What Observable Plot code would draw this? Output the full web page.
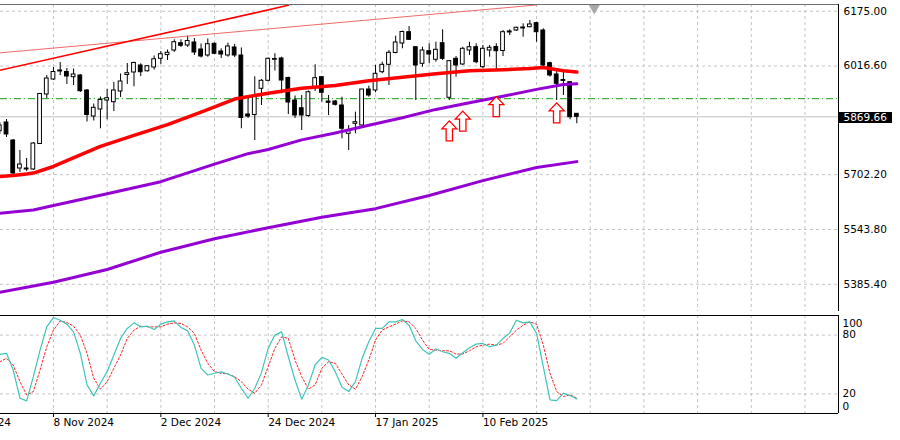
<!DOCTYPE html>
<html><head><meta charset="utf-8">
<script src="https://cdn.jsdelivr.net/npm/d3@7"></script>
<script src="https://cdn.jsdelivr.net/npm/@observablehq/plot@0.6"></script>
<style>
body{margin:0;background:#fff;}
#wrap{position:relative;width:900px;height:440px;overflow:hidden;background:#fff;}
#wrap svg{position:absolute;left:0;overflow:hidden;}
#bottomline{position:absolute;left:0;top:436px;width:900px;height:1px;background:#a0a0a0;}
</style></head><body><div id="wrap"><div id="bottomline"></div></div>
<script>
// ---- daily candles (bar index 0..86) ----
const open = [5828.0, 5853.2, 5801.1, 5720.1, 5720.1, 5717.3, 5791.0, 5934.2, 5977.5, 6003.6,
 5999.2, 5984.2, 5989.1, 5945.7, 5870.5, 5890.8, 5916.8, 5911.9, 5942.8, 5990.6,
 5997.8, 6018.0, 6001.3, 6012.2, 6037.4, 6048.1, 6061.4, 6082.5, 6075.9, 6084.5,
 6064.3, 6046.9, 6080.8, 6058.5, 6046.9, 6070.1, 6046.9, 5876.3, 5874.9, 5950.6,
 5973.8, 6034.5, 6038.3, 5981.9, 5916.8, 5894.5, 5872.0, 5955.3, 5984.2, 5913.9,
 5913.9, 5902.3, 5820.5, 5849.4, 5844.5, 5948.6, 5945.7, 5998.6, 6020.0, 6054.2,
 6081.6, 6114.3, 6070.9, 6022.9, 6059.4, 6034.5, 6082.5, 5924.6, 6037.4, 6020.9,
 6061.4, 6070.9, 6013.1, 6061.4, 6071.5, 6060.0, 6116.4, 6119.2, 6127.9, 6128.8,
 6140.4, 6119.2, 6024.7, 5992.0, 5976.1, 5969.7, 5878.3];
const high = [5853.2, 5861.9, 5804.0, 5772.2, 5749.1, 5795.3, 5937.0, 5989.1, 6012.2, 6026.7,
 6009.3, 6007.9, 5992.0, 5948.6, 5906.7, 5926.9, 5948.6, 5968.9, 5993.4, 6023.8,
 6027.6, 6022.9, 6018.0, 6045.5, 6058.5, 6062.9, 6092.3, 6092.3, 6103.3, 6096.1,
 6080.2, 6094.7, 6083.1, 6066.3, 6082.5, 6078.8, 6068.6, 5925.5, 5985.3, 5977.5,
 6039.7, 6051.9, 6042.0, 5984.2, 5929.8, 5931.3, 5944.3, 6020.0, 5985.3, 5931.3,
 5916.8, 5926.3, 5844.5, 5883.0, 5948.6, 5958.2, 6018.0, 6027.6, 6061.4, 6102.8,
 6117.2, 6130.8, 6070.9, 6070.9, 6080.8, 6085.4, 6121.3, 6032.5, 6044.0, 6070.9,
 6085.4, 6080.8, 6075.9, 6075.9, 6080.8, 6119.2, 6121.3, 6128.8, 6138.6, 6148.2,
 6143.2, 6124.2, 6027.6, 6003.6, 5998.6, 5969.7, 5879.2];
const low = [5818.5, 5809.8, 5702.8, 5708.6, 5711.5, 5714.4, 5789.6, 5922.6, 5974.6, 5989.1,
 5963.1, 5960.2, 5939.9, 5854.6, 5857.5, 5835.0, 5861.0, 5885.0, 5925.5, 5963.1,
 5956.4, 5986.2, 5999.2, 6004.4, 6020.9, 6032.5, 6055.6, 6070.1, 6070.1, 6046.9,
 6039.7, 6042.0, 6049.8, 6038.3, 6042.0, 6041.2, 5835.0, 5864.7, 5801.1, 5902.3,
 5970.3, 6002.1, 5936.2, 5876.3, 5864.7, 5830.0, 5868.5, 5942.8, 5911.9, 5873.4,
 5900.9, 5806.0, 5772.2, 5820.5, 5843.1, 5926.3, 5939.1, 5994.0, 5960.2, 6051.9,
 6066.3, 6090.3, 5916.8, 6013.1, 6022.9, 6027.6, 6032.5, 5916.8, 5984.2, 6018.0,
 6046.9, 6022.9, 6008.5, 6042.0, 6003.6, 6044.0, 6104.8, 6116.4, 6099.9, 6127.1,
 6085.4, 6013.1, 5984.2, 5916.8, 5931.3, 5861.0, 5849.4];
const close = [5844.5, 5818.5, 5705.7, 5731.7, 5717.3, 5792.4, 5935.6, 5980.4, 5999.2, 6000.7,
 5986.2, 5992.0, 5943.7, 5874.9, 5895.7, 5918.3, 5923.5, 5945.7, 5971.8, 5995.8,
 6025.3, 5998.6, 6016.0, 6036.0, 6050.7, 6054.8, 6085.4, 6075.0, 6088.9, 6055.6,
 6044.0, 6079.6, 6051.9, 6049.8, 6073.0, 6046.9, 5866.2, 5870.5, 5926.9, 5973.8,
 6037.4, 6036.8, 5974.6, 5911.0, 5873.4, 5873.4, 5940.8, 5981.3, 5939.1, 5910.2,
 5904.4, 5835.0, 5830.0, 5854.0, 5948.6, 5931.3, 5994.0, 6020.0, 6054.8, 6084.5,
 6114.9, 6092.3, 6018.0, 6061.4, 6049.8, 6063.4, 6037.4, 6030.5, 6018.0, 6066.3,
 6070.9, 6027.6, 6066.3, 6069.2, 6059.4, 6114.3, 6113.5, 6127.1, 6125.0, 6136.6,
 6114.3, 6018.0, 5989.1, 5965.1, 5973.2, 5868.5, 5869.66];

// ---- moving averages (sampled at bar indices) ----
const maRedBars = [0, 2, 4, 5, 8, 10, 15, 20, 25, 30, 35, 40, 45, 50, 55, 60, 65, 70, 75, 79, 81, 84, 86];
const maRed     = [5697, 5700, 5704, 5707, 5726, 5743, 5784, 5816, 5847, 5883, 5921, 5938, 5952, 5960, 5974, 5984, 5994, 6003, 6006, 6009, 6012, 6003, 5999];
const maMidBars = [0, 5, 8, 16, 24, 32, 37, 40, 45, 50, 55, 60, 65, 70, 75, 80, 84, 86];
const maMid     = [5591, 5600, 5613, 5647, 5682, 5733, 5763, 5775, 5803, 5823, 5845, 5867, 5891, 5910, 5929, 5949, 5963, 5965];
const maLowBars = [0, 8, 16, 24, 32, 40, 48, 56, 64, 72, 80, 86];
const maLow     = [5362, 5391, 5428, 5478, 5517, 5549, 5579, 5604, 5642, 5685, 5723, 5740];

// ---- trend lines, levels, signals ----
const trendABars = [0, 43], trendAPrices = [6004, 6192];
const trendBBars = [0, 80], trendBPrices = [6054.5, 6193];
const greenLevel = 5922;
const lastClose = 5869.66;
const arrowBars = [67, 69, 74, 83];
const arrowPrices = [5829, 5857, 5899, 5881];
const shiftBar = 88.6;

// ---- stochastic ----
const stochMain = [60.4, 61.4, 44.4, 15.6, 12.9, 37.6, 64.7, 88.4, 98.0, 95.2,
 91.2, 83.3, 61.4, 29.2, 18.0, 30.9, 42.7, 59.7, 76.6, 86.8,
 92.5, 88.4, 89.1, 85.8, 91.2, 93.5, 94.5, 87.8, 84.3, 69.8,
 46.1, 39.3, 41.1, 42.4, 40.3, 37.0, 25.8, 15.6, 25.8, 41.7,
 66.5, 80.0, 83.3, 57.9, 34.2, 14.6, 29.2, 49.5, 57.3, 54.6,
 42.7, 26.8, 22.4, 32.5, 56.3, 73.2, 86.8, 86.8, 93.5, 93.5,
 95.9, 90.1, 74.2, 65.4, 60.4, 65.8, 63.0, 61.4, 56.3, 62.0,
 67.1, 70.8, 71.5, 68.1, 69.8, 76.6, 82.3, 95.2, 92.5, 93.5,
 81.7, 47.8, 13.9, 13.2, 20.7, 18.3, 14.9];
const stochSignal = [52.8, 56.3, 49.5, 32.5, 19.0, 22.4, 44.4, 68.1, 85.1, 94.5,
 92.9, 89.1, 80.0, 61.4, 36.0, 24.8, 32.5, 46.1, 59.7, 76.6,
 85.1, 89.1, 88.4, 88.4, 88.4, 91.2, 92.5, 91.9, 88.4, 81.7,
 64.7, 51.2, 42.7, 41.1, 40.3, 37.6, 32.5, 24.8, 20.7, 29.2,
 47.8, 66.5, 78.3, 76.6, 54.6, 37.6, 24.8, 29.2, 46.1, 52.8,
 51.2, 40.3, 29.2, 24.8, 37.6, 54.6, 74.9, 85.1, 88.4, 91.2,
 94.5, 93.5, 86.8, 74.9, 65.4, 64.7, 64.0, 64.0, 60.7, 60.7,
 64.0, 68.1, 69.8, 70.8, 69.8, 71.5, 78.3, 85.1, 90.1, 93.5,
 91.2, 69.8, 41.1, 22.4, 17.3, 19.0, 15.6];

// ---- axes ----
const priceTicks = [6175.00, 6016.60, 5702.20, 5543.80, 5385.40];
const tickBars = [-8, 8, 24, 40, 56, 72];
const tickLabels = ["17 Oct 2024", "8 Nov 2024", "2 Dec 2024", "24 Dec 2024", "17 Jan 2025", "10 Feb 2025"];
const stochTop = [100], stochMid = [80, 20], stochBottom = [0];

// ---- build ----
const xDomain = [0.104, 125];
const yDomain = [5306.6, 6194.4];
const gridBars = d3.range(8, 125, 8);
const candles = open.map((o, i) => ({i, o, h: high[i], l: low[i], c: close[i]}));
const toPts = (bars, vals) => bars.map((b, i) => ({b, v: vals[i]}));

const upArrow = {
  draw(ctx, size) {
    const s = Math.sqrt(size / Math.PI) / 10;
    ctx.moveTo(0, -10 * s);
    ctx.lineTo(7.5 * s, -2 * s);
    ctx.lineTo(3.2 * s, -2 * s);
    ctx.lineTo(3.2 * s, 10 * s);
    ctx.lineTo(-3.2 * s, 10 * s);
    ctx.lineTo(-3.2 * s, -2 * s);
    ctx.lineTo(-7.5 * s, -2 * s);
    ctx.closePath();
  }
};
const boxSymbol = { draw(ctx) { ctx.rect(-26.5, -5.5, 53, 11); } };

const font = {fontFamily: "DejaVu Sans, sans-serif", fontSize: "10.5px", background: "white", overflow: "hidden"};
const grid = {stroke: "#c4c4c4", strokeDasharray: "3,3", strokeWidth: 1};

const main = Plot.plot({
  width: 900, height: 312, marginTop: 4, marginBottom: 1, marginLeft: 0, marginRight: 62,
  x: {domain: xDomain, axis: null},
  y: {domain: yDomain, axis: null},
  style: font,
  marks: [
    Plot.ruleY(priceTicks, {y: d => d, ...grid}),
    Plot.ruleX(gridBars, {x: d => d, ...grid}),
    Plot.ruleY([lastClose], {y: d => d, stroke: "#c0c0c0"}),
    Plot.ruleY([greenLevel], {y: d => d, stroke: "#10a010", strokeDasharray: "7,3,1,3"}),
    Plot.ruleX(candles, {x: "i", y1: "l", y2: "h", stroke: "black", strokeWidth: 1}),
    Plot.rect(candles, {x1: d => d.i - 0.28, x2: d => d.i + 0.28, y1: "o", y2: "c",
      fill: d => d.c >= d.o ? "white" : "black", stroke: "black", strokeWidth: 1}),
    Plot.line(toPts(maLowBars, maLow), {x: "b", y: "v", stroke: "#9400d3", strokeWidth: 3}),
    Plot.line(toPts(maMidBars, maMid), {x: "b", y: "v", stroke: "#9400d3", strokeWidth: 3}),
    Plot.line(toPts(maRedBars, maRed), {x: "b", y: "v", stroke: "#ff0000", strokeWidth: 3.5}),
    Plot.line(toPts(trendBBars, trendBPrices), {x: "b", y: "v", stroke: "#f06a6a", strokeWidth: 1, clip: true}),
    Plot.line(toPts(trendABars, trendAPrices), {x: "b", y: "v", stroke: "#ff0000", strokeWidth: 1.6, clip: true}),
    Plot.dot(toPts(arrowBars, arrowPrices), {x: "b", y: "v", symbol: upArrow, r: 10, fill: "white", stroke: "#ff0000", strokeWidth: 1.3}),
    Plot.dot([shiftBar], {x: d => d, frameAnchor: "top", symbol: "triangle", rotate: 180, r: 4.5, dy: 3, fill: "#a8a8a8", stroke: "none"}),
    Plot.ruleY([yDomain[1]], {y: d => d, stroke: "#707070"}),
    Plot.ruleY([yDomain[0]], {y: d => d, stroke: "black"}),
    Plot.ruleX([xDomain[1]], {x: d => d, stroke: "black"}),
    Plot.text(priceTicks, {x: () => xDomain[1], y: d => d, text: d => d.toFixed(2), textAnchor: "start", dx: 5, fill: "black"}),
    Plot.dot([lastClose], {x: () => xDomain[1], y: d => d, symbol: boxSymbol, r: 5, dx: 27, dy: 0.8, fill: "black", stroke: "none"}),
    Plot.text([lastClose], {x: () => xDomain[1], y: d => d, text: d => d.toFixed(2), textAnchor: "start", dx: 5, dy: 0.8, fill: "white"})
  ]
});
main.style.top = "0px";

const idx = (d, i) => i;
const stoch = Plot.plot({
  width: 900, height: 129, marginTop: 4, marginBottom: 27, marginLeft: 0, marginRight: 62,
  x: {domain: xDomain, axis: null},
  y: {domain: [0, 100], axis: null},
  style: font,
  marks: [
    Plot.ruleY(stochMid, {y: d => d, ...grid}),
    Plot.ruleX(gridBars, {x: d => d, ...grid}),
    Plot.line(stochSignal, {x: idx, y: d => d, stroke: "#ff2020", strokeWidth: 1, strokeDasharray: "2,2"}),
    Plot.line(stochMain, {x: idx, y: d => d, stroke: "#40c4b8", strokeWidth: 1.2}),
    Plot.ruleY([0, 100], {y: d => d, stroke: "black"}),
    Plot.ruleX([xDomain[1]], {x: d => d, stroke: "black"}),
    Plot.text(stochTop, {x: () => xDomain[1], y: d => d, text: d => String(d), textAnchor: "start", dx: 4, dy: 8, fill: "black"}),
    Plot.text(stochMid, {x: () => xDomain[1], y: d => d, text: d => String(d), textAnchor: "start", dx: 4, fill: "black"}),
    Plot.text(stochBottom, {x: () => xDomain[1], y: d => d, text: d => String(d), textAnchor: "start", dx: 4, dy: -7, fill: "black"}),
    Plot.ruleX(tickBars, {x: d => d, y1: () => 0, y2: () => 0, insetTop: 4, stroke: "black"}),
    Plot.text(tickBars, {x: d => d, text: (d, i) => tickLabels[i], frameAnchor: "bottom", dy: 12, textAnchor: "start", fill: "black"})
  ]
});
stoch.style.top = "311px";

const wrap = document.getElementById("wrap");
wrap.appendChild(main);
wrap.appendChild(stoch);
</script>
</body></html>
